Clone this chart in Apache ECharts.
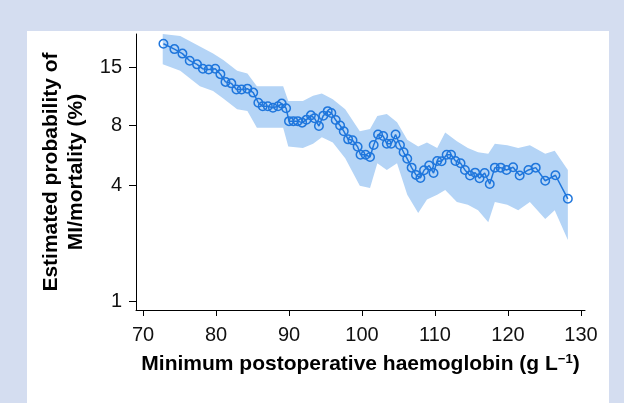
<!DOCTYPE html>
<html>
<head>
<meta charset="utf-8">
<title>MI/mortality vs haemoglobin</title>
<script src="https://cdn.jsdelivr.net/npm/echarts@6/dist/echarts.min.js"></script>
<style>
  html, body { margin: 0; padding: 0; background: #d4ddf0; }
  #main { width: 624px; height: 403px; }
</style>
</head>
<body>
<div id="main"></div>
<script>
// minimum postoperative haemoglobin (g/L) of each estimate
var hb = [72.8, 74.3, 75.4, 76.4, 77.4, 78.2, 79.0, 79.9, 80.6, 81.3,
  82.1, 82.8, 83.5, 84.3, 85.1, 85.8, 86.4, 87.1, 87.8, 88.5,
  89.0, 89.6, 90.0, 90.6, 91.2, 91.8, 92.4, 93.0, 93.5, 94.1,
  94.7, 95.3, 95.8, 96.4, 97.0, 97.5, 98.1, 98.7, 99.4, 99.8,
  100.5, 101.1, 101.6, 102.2, 102.9, 103.4, 104.0, 104.6, 105.2, 105.7,
  106.2, 106.8, 107.4, 108.0, 108.5, 109.2, 109.8, 110.3, 110.9, 111.6,
  112.2, 112.8, 113.5, 114.1, 114.8, 115.5, 116.1, 116.8, 117.5, 118.2,
  119.0, 119.8, 120.7, 121.6, 122.8, 123.8, 125.1, 126.5, 128.2];
// estimated probability (%)
var prob = [19.1, 18.1, 17.3, 16.1, 15.5, 14.8, 14.7, 14.8, 14.0, 12.9,
  12.7, 11.9, 11.9, 12.0, 11.5, 10.3, 9.9, 9.9, 9.75, 9.9,
  10.2, 9.7, 8.4, 8.4, 8.4, 8.26, 8.54, 8.96, 8.67, 7.95,
  8.93, 9.39, 9.2, 8.5, 8.0, 7.5, 6.84, 6.77, 6.29, 5.73,
  5.73, 5.59, 6.41, 7.22, 7.1, 6.51, 6.51, 7.22, 6.41, 5.9,
  5.47, 4.94, 4.54, 4.38, 4.79, 5.06, 4.64, 5.34, 5.32, 5.73,
  5.73, 5.34, 5.2, 4.81, 4.51, 4.66, 4.37, 4.64, 4.08, 4.94,
  4.94, 4.81, 4.96, 4.51, 4.81, 4.94, 4.24, 4.52, 3.43];
// confidence band
var bandHb = [72.7, 75.1, 77.8, 79.6, 81.0, 82.9, 84.3, 85.6, 89.2, 89.9,
  91.9, 93.3, 94.5, 96.0, 97.7, 99.7, 101.1, 102.1, 103.4, 104.8,
  106.2, 107.7, 108.9, 110.3, 111.4, 113.0, 114.5, 115.9, 117.3, 118.2,
  119.9, 121.4, 123.0, 125.1, 126.4, 128.2];
var bandUpper = [21.0, 20.6, 18.6, 17.3, 16.2, 14.5, 14.1, 12.3, 12.3, 10.5,
  10.5, 11.1, 11.4, 10.7, 9.6, 7.5, 7.7, 8.9, 9.1, 8.3,
  6.8, 6.3, 6.6, 6.2, 7.4, 6.7, 6.2, 5.9, 5.8, 6.5,
  6.4, 6.2, 6.4, 5.8, 6.0, 4.8];
var bandLower = [15.5, 14.5, 12.3, 11.7, 10.8, 9.6, 9.4, 7.8, 7.8, 6.3,
  6.2, 6.5, 7.0, 6.6, 5.5, 4.0, 3.9, 5.2, 4.8, 5.2,
  3.6, 2.9, 3.4, 3.6, 3.8, 3.3, 3.2, 3.0, 2.6, 3.3,
  3.2, 3.0, 3.3, 2.7, 3.0, 2.1];
var xTicks = [70, 80, 90, 100, 110, 120, 130];
var yTicks = [1, 4, 8, 15];

// y axis is drawn on the log-odds scale
function logit(pct) { var p = pct / 100; return Math.log(p / (1 - p)); }

var lineBlue = '#1f76dc';
var bandBlue = '#b4d4f6';
var font = 'Liberation Sans, Arial, sans-serif';

var chart = echarts.init(document.getElementById('main'));

// band drawn as one polygon: upper edge left->right, lower edge back
function renderBand(params, api) {
  if (params.dataIndex !== 0) return;
  var pts = [];
  for (var i = 0; i < bandHb.length; i++) pts.push(api.coord([bandHb[i], logit(bandUpper[i])]));
  for (var j = bandHb.length - 1; j >= 0; j--) pts.push(api.coord([bandHb[j], logit(bandLower[j])]));
  return {
    type: 'polygon',
    shape: { points: pts },
    style: { fill: bandBlue }
  };
}

var option = {
  animation: false,
  graphic: [{
    type: 'rect', z: -10, silent: true,
    shape: { x: 27, y: 31, width: 582, height: 380 },
    style: { fill: '#ffffff' }
  }],
  grid: { left: 136, right: 39, top: 34, bottom: 93 },
  xAxis: {
    type: 'value',
    min: 69.04, max: 130.55,
    axisLine: { lineStyle: { color: '#000', width: 1 } },
    axisTick: { customValues: xTicks, length: 6, lineStyle: { color: '#000' } },
    axisLabel: { customValues: xTicks, color: '#111', fontSize: 20, fontFamily: font, margin: 15 },
    splitLine: { show: false },
    name: 'Minimum postoperative haemoglobin (g L{sup|−1})',
    nameLocation: 'middle',
    nameGap: 43,
    nameTextStyle: {
      color: '#000', fontSize: 21, fontWeight: 'bold', fontFamily: font,
      rich: { sup: { fontSize: 13, fontWeight: 'bold', fontFamily: font, color: '#000', verticalAlign: 'top', padding: [0, 0, 9, 0] } }
    }
  },
  yAxis: {
    type: 'value',
    min: logit(0.905), max: logit(21.0),
    axisLine: { show: true, lineStyle: { color: '#000', width: 1 } },
    axisTick: { show: true, customValues: yTicks.map(logit), length: 7, lineStyle: { color: '#000' } },
    axisLabel: {
      customValues: yTicks.map(logit), color: '#111', fontSize: 20, fontFamily: font, margin: 14,
      formatter: function (v) { return Math.round(100 / (1 + Math.exp(-v))); }
    },
    splitLine: { show: false },
    name: 'Estimated probability of\nMI/mortality (%)',
    nameLocation: 'middle',
    nameRotate: 90,
    nameGap: 47,
    nameTextStyle: { color: '#000', fontSize: 21, fontWeight: 'bold', fontFamily: font, lineHeight: 25 }
  },
  series: [
    {
      type: 'custom',
      renderItem: renderBand,
      data: bandHb.map(function (x, i) { return [x, logit(bandLower[i]), logit(bandUpper[i])]; }),
      encode: { x: 0, y: [1, 2] },
      silent: true, z: 1
    },
    {
      type: 'line',
      data: hb.map(function (x, i) { return [x, logit(prob[i])]; }),
      symbol: 'circle', symbolSize: 8.5, showAllSymbol: true,
      lineStyle: { color: lineBlue, width: 1.5 },
      itemStyle: { color: 'rgba(0,0,0,0)', borderColor: lineBlue, borderWidth: 1.5 },
      z: 3
    }
  ]
};
chart.setOption(option);
</script>
</body>
</html>
